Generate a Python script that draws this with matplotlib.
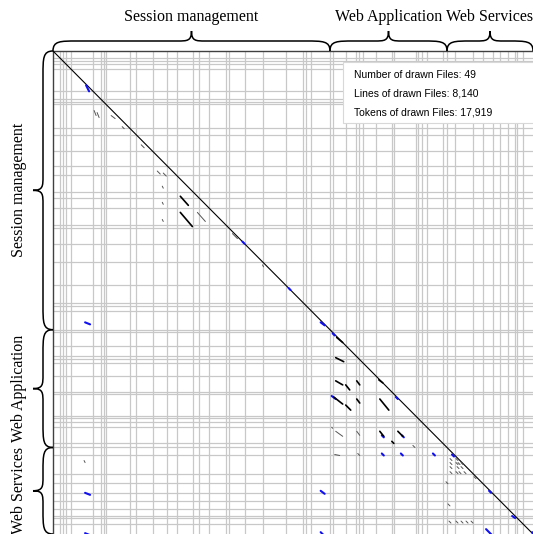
import matplotlib
matplotlib.use("Agg")
import matplotlib.pyplot as plt
from matplotlib.path import Path
from matplotlib import patches
import numpy as np

# lines per drawn file (49 files, 8,140 lines in total)
file_lines = [114, 50, 51, 85, 373, 136, 56, 34, 407, 102, 283, 242, 165, 271, 102,
              174, 289, 51, 271, 305, 390, 289, 51, 84, 322,
              46, 226, 169, 51, 68, 221, 266, 39, 373, 34, 62, 85, 272, 73,
              135, 305, 165, 170, 123, 136, 118, 34, 102, 170]
group_names = ["Session management", "Web Application", "Web Services"]
group_files = [25, 14, 10]

info_lines = ["Number of drawn Files: 49",
              "Lines of drawn Files: 8,140",
              "Tokens of drawn Files: 17,919"]

# clone marks in line coordinates (x: file on top, y: file on left)
clone_x0 = [561, 544, 544, 544, 3213, 3995, 4539, 4743, 5814, 6766, 7395, 7786, 8126,
            4539, 4539, 7344, 4726, 5576, 5899, 6443, 5916, 5576,
            697, 748, 986, 1768, 1870, 1853, 1853, 1853, 2159, 2159, 2448, 3043, 3553, 1496, 1173,
            4811, 4794, 4794, 4964, 5151, 5525, 4760, 4964, 5151, 5542, 4794, 5151, 5542, 5848,
            5746, 6103, 4777, 5168, 4726,
            6732, 6834, 6732, 6834, 6868, 6919, 6732, 6851, 6919, 6732, 6834, 6885, 6970,
            6715, 6834, 6919, 7004, 7089, 6664, 6698, 7140, 527, 527]
clone_y0 = [578, 4573, 7446, 8126, 3213, 3995, 4573, 4760, 5831, 6800, 7412, 7837, 8109,
            7412, 8109, 8058, 5814, 6783, 6783, 6783, 6477, 6477,
            1003, 1037, 1088, 2023, 2057, 2278, 2550, 2839, 2448, 2720, 2720, 3077, 3604, 1581, 1275,
            4828, 5168, 5559, 5627, 5559, 5542, 5831, 5967, 5865, 5865, 6409, 6409, 6409, 6409,
            6579, 6647, 6800, 6783, 6341,
            6868, 6868, 6936, 6936, 6936, 6936, 7004, 7004, 7004, 7089, 7089, 7089, 7089,
            7922, 7922, 7922, 7922, 7922, 7259, 7633, 7174, 6902, 7021]
clone_x1 = [612, 629, 629, 629, 3247, 4029, 4607, 4777, 5848, 6800, 7429, 7837, 8160,
            4607, 4607, 7463, 4794, 5610, 5933, 6477, 5950, 5610,
            731, 782, 1054, 1819, 1921, 1870, 1870, 1870, 2295, 2363, 2584, 3128, 3570, 1547, 1207,
            4913, 4930, 4913, 5032, 5202, 5593, 4913, 5049, 5202, 5695, 4913, 5202, 5610, 5933,
            5780, 6137, 4862, 5202, 4743,
            6766, 6868, 6766, 6868, 6902, 6953, 6766, 6885, 6953, 6766, 6868, 6919, 7004,
            6749, 6868, 6953, 7038, 7123, 6698, 6732, 7174, 544, 544]
clone_y1 = [680, 4607, 7480, 8160, 3247, 4029, 4624, 4794, 5865, 6834, 7446, 7871, 8177,
            7463, 8177, 8177, 5865, 6817, 6817, 6817, 6511, 6511,
            1088, 1122, 1139, 2074, 2108, 2312, 2584, 2873, 2601, 2958, 2873, 3162, 3638, 1632, 1309,
            4913, 5236, 5627, 5712, 5627, 5593, 5950, 6052, 5933, 6052, 6494, 6477, 6494, 6494,
            6613, 6681, 6817, 6817, 6358,
            6902, 6902, 6970, 6970, 6970, 6970, 7038, 7038, 7038, 7123, 7123, 7123, 7123,
            7956, 7956, 7956, 7956, 7956, 7293, 7667, 7208, 6936, 7055]
clone_kind = (["blue"] * 22 + ["gray", "gray", "gray", "gray", "gray", "gray", "gray", "gray",
                               "black", "black", "gray", "gray", "gray", "gray", "gray"]
              + ["black"] * 10 + ["gray"] * 2 + ["black"] * 3 + ["gray"] * 3
              + ["gray"] * 13 + ["gray"] * 5 + ["gray"] * 3 + ["gray"] * 2)

kind_style = {"blue": ("#1010f0", 1.5), "black": ("#000000", 1.2), "gray": ("#555555", 0.7)}

TOTAL = sum(file_lines)
bounds = np.cumsum(file_lines)[:-1]

fig = plt.figure(figsize=(5.33, 5.34), dpi=100)
ax = fig.add_axes([53 / 533, 0, 480 / 533, 483 / 534])
ax.set_xlim(0, TOTAL)
ax.set_ylim(TOTAL, 0)
ax.set_xticks([])
ax.set_yticks([])
for s in ["right", "bottom"]:
    ax.spines[s].set_visible(False)
for s in ["top", "left"]:
    ax.spines[s].set_color("#404040")
    ax.spines[s].set_linewidth(1.0)

# file borders
for b in bounds:
    ax.axvline(b, color="#c8c8c8", lw=0.9, zorder=1)
    ax.axhline(b, color="#c8c8c8", lw=0.9, zorder=1)

# main diagonal
ax.plot([0, TOTAL], [0, TOTAL], color="black", lw=0.8, zorder=3)

for x0, y0, x1, y1, k in zip(clone_x0, clone_y0, clone_x1, clone_y1, clone_kind):
    c, w = kind_style[k]
    ax.plot([x0, x1], [y0, y1], color=c, lw=w, solid_capstyle="round", zorder=4)

# info box
box = patches.Rectangle((0.604, 0.851), 0.42, 0.126, transform=ax.transAxes,
                        facecolor="white", edgecolor="#d8d8d8", lw=0.8, zorder=5,
                        clip_on=False)
ax.add_patch(box)
for i, t in enumerate(info_lines):
    ax.text(0.627, 0.951 - i * 0.039, t, transform=ax.transAxes, fontsize=7.5,
            family="Liberation Sans", ha="left", va="center", zorder=6)

kx = TOTAL / 480
ky = TOTAL / 483


def brace(a0, a1, k_along, k_across, horizontal):
    # curly brace outside the top (horizontal) or left edge of the matrix
    bm = -10 * k_across
    bt = -20 * k_across
    re = 24 * k_along
    rt = 14 * k_along
    m = (a0 + a1) / 2
    pts = [(a0, 0), (a0, bm), (a0 + re * 0.3, bm), (a0 + re, bm),
           (m - rt, bm),
           (m - rt * 0.3, bm), (m, bm), (m, bt),
           (m, bm), (m + rt * 0.3, bm), (m + rt, bm),
           (a1 - re, bm),
           (a1 - re * 0.3, bm), (a1, bm), (a1, 0)]
    codes = ([Path.MOVETO] + [Path.CURVE4] * 3 + [Path.LINETO] + [Path.CURVE4] * 6
             + [Path.LINETO] + [Path.CURVE4] * 3)
    if not horizontal:
        pts = [(q, p) for p, q in pts]
    ax.add_patch(patches.PathPatch(Path(pts, codes), facecolor="none",
                                   edgecolor="black", lw=1.1, clip_on=False, zorder=6))


start = 0
fi = 0
for name, n in zip(group_names, group_files):
    end = start + sum(file_lines[fi:fi + n])
    fi += n
    mid = (start + end) / 2
    brace(start, end, kx, ky, True)
    brace(start, end, ky, kx, False)
    ax.text(mid, -34 * ky, name, fontsize=11.5, family="Liberation Serif",
            ha="center", va="center", clip_on=False)
    ax.text(-34 * kx, mid, name, fontsize=11.5, family="Liberation Serif",
            ha="center", va="center", rotation=90, clip_on=False)
    start = end

fig.savefig("out.png", dpi=100)
